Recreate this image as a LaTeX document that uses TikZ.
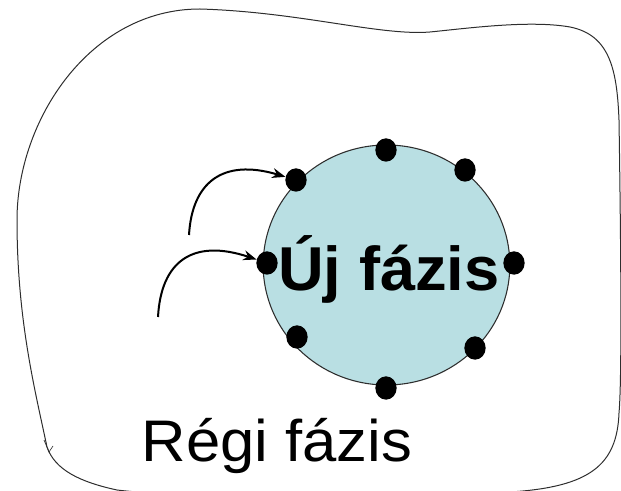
\documentclass[tikz,border=0pt]{standalone}
\usepackage{fontspec}
\usepackage{graphicx}
\setmainfont{Liberation Sans}
\usetikzlibrary{shapes.geometric,arrows.meta}
\definecolor{phasefill}{RGB}{185,223,227}
\definecolor{outline}{RGB}{45,45,45}
\begin{document}
\begin{tikzpicture}[x=0.75pt,y=-0.75pt,
  site/.style={ellipse,fill=black,draw=none,inner sep=0pt,
    minimum width=16pt,minimum height=17.5pt},
  flow/.style={line width=1.5pt,-{Stealth[length=10pt,width=7.5pt]}},
  phase/.style={ellipse,fill=phasefill,draw=outline,line width=0.8pt,
    minimum width=185pt,minimum height=180pt,inner sep=0pt},
  boundary/.style={draw=outline,line width=0.75pt}]
\useasboundingbox (0,0) rectangle (621,491);
\clip (0,0) rectangle (621,491);

% outer region (old phase), a freehand closed outline
\coordinate (o1) at (47,447);
\coordinate (o2) at (17,220);
\coordinate (o3) at (200,9);
\coordinate (o4) at (430,32);
\coordinate (o5) at (570,27);
\coordinate (o6) at (619,120);
\coordinate (o7) at (619,413);
\coordinate (o8) at (510,492);
\coordinate (o9) at (117,490);
\draw[boundary] (o1)
  .. controls (35,390) and (17,320) .. (o2)
  .. controls (17,120) and (90,9) .. (o3)
  .. controls (300,12) and (380,36) .. (o4)
  .. controls (470,28) and (530,20) .. (o5)
  .. controls (610,35) and (617,70) .. (o6)
  .. controls (621,250) and (622,380) .. (o7)
  .. controls (617,465) and (590,487) .. (o8)
  .. controls (400,498) and (200,500) .. (o9)
  .. controls (80,482) and (55,470) .. (o1);
% small tick where the freehand stroke ends
\coordinate (tickA) at (44,440);
\coordinate (tickB) at (49,452);
\coordinate (tickC) at (53,446);
\draw[outline,line width=0.5pt] (tickA) -- (tickB) -- (tickC);

% new phase nucleus
\node[phase] (nucleus) at (386.5,265) {};

% atoms on the interface
\node[site] (top) at (386,150) {};
\node[site] (tr)  at (465,170) {};
\node[site] (rt)  at (514,263) {};
\node[site] (br)  at (475,348) {};
\node[site] (bot) at (386,388) {};
\node[site] (bl)  at (297,337) {};
\node[site] (lf)  at (267,263) {};
\node[site] (tl)  at (296,180) {};

% arriving atoms
\coordinate (src1) at (189,235);
\coordinate (src2) at (158,317);
\draw[flow] (src1) .. controls (192,183) and (222,158) .. (tl);
\draw[flow] (src2) .. controls (161,262) and (192,238) .. (lf);

% labels
\node[anchor=base,inner sep=0pt] (newlabel) at (389,291)
  {\fontsize{46.5}{50}\selectfont\bfseries\scalebox{1.02}[1]{Új fázis}};
\node[anchor=base,inner sep=0pt] (oldlabel) at (277,461)
  {\fontsize{44}{48}\selectfont\scalebox{1.05}[1]{Régi fázis}};
\end{tikzpicture}
\end{document}
